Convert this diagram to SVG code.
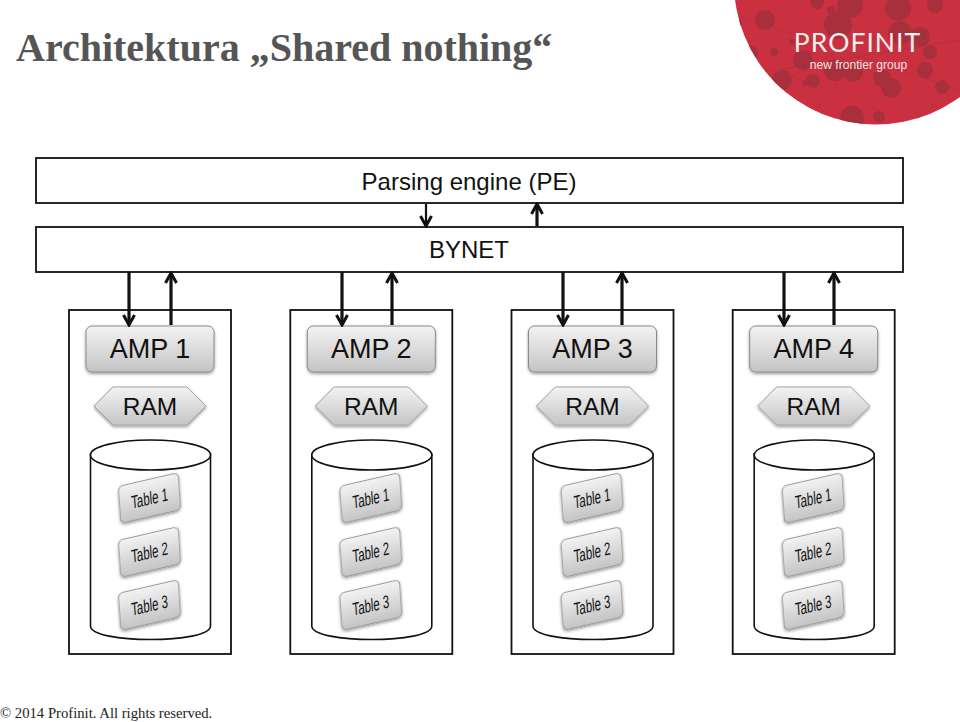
<svg xmlns="http://www.w3.org/2000/svg" width="960" height="722" viewBox="0 0 960 722">
<style>
text{font-family:"Liberation Sans",Arial,sans-serif;fill:#111;text-anchor:middle}
.serif{font-family:"Liberation Serif","Times New Roman",serif;text-anchor:start}
.box{fill:#fff;stroke:#111;stroke-width:1.8}
.amp{fill:url(#gr);stroke:#8a8a8a;stroke-width:1;filter:url(#sh)}
.ramp{fill:url(#gr);stroke:#a5a5a5;stroke-width:1;filter:url(#sh)}
.tbl{fill:url(#gr);stroke:#999;stroke-width:1;filter:url(#sh)}
.cyl{fill:#fff;stroke:#111;stroke-width:1.6}
.a{font-size:27px}.r{font-size:24.5px}.t{font-size:18px}
.w{stroke:#111;stroke-width:3.2;fill:none;marker-end:url(#ah)}
.d{fill:#a8303c}
.v{stroke:#a8333d;stroke-width:.7;fill:none}
</style>
<defs>
<linearGradient id="gr" x1="0" y1="0" x2="0" y2="1"><stop offset="0" stop-color="#f3f3f3"/><stop offset="1" stop-color="#c4c4c4"/></linearGradient>
<filter id="sh" x="-15%" y="-15%" width="130%" height="135%"><feDropShadow dx="0" dy="1.5" stdDeviation="1.5" flood-color="#000" flood-opacity=".4"/></filter>
<marker id="ah" markerUnits="userSpaceOnUse" markerWidth="14" markerHeight="14" refX="12" refY="7" orient="auto"><path d="M2 1.5 L12 7 L2 12.5" fill="none" stroke="#111" stroke-width="3"/></marker>
<clipPath id="lc"><circle cx="876" cy="-17.5" r="142"/></clipPath>
<g id="tables">
<g transform="matrix(1 -.23 .07 1 149.5 498)"><rect class="tbl" x="-30" y="-18.5" width="60" height="37" rx="5"/><text class="t" transform="scale(.63 1)" y="6.500">Table 1</text></g>
<g transform="matrix(1 -.23 .07 1 149.5 552)"><rect class="tbl" x="-30" y="-18.5" width="60" height="37" rx="5"/><text class="t" transform="scale(.63 1)" y="6.500">Table 2</text></g>
<g transform="matrix(1 -.23 .07 1 149.5 605)"><rect class="tbl" x="-30" y="-18.5" width="60" height="37" rx="5"/><text class="t" transform="scale(.63 1)" y="6.500">Table 3</text></g>
</g>
<g id="col">
<rect class="box" x="69" y="310" width="162" height="344"/>
<rect class="amp" x="86" y="326" width="128" height="46" rx="6"/>
<path class="ramp" d="M113 387H187L206 406L187 425H113L94 406Z"/>
<text class="r" x="150" y="415">RAM</text>
<path class="cyl" d="M90.500 454V626C90.500 644 210.500 644 210.500 626V454Z"/>
<ellipse class="cyl" cx="150.500" cy="455" rx="60" ry="15"/>
<use href="#tables"/>
</g>
</defs>
<rect width="960" height="722" fill="#fff"/>
<g id="logo" clip-path="url(#lc)">
<rect x="720" y="0" width="240" height="135" fill="#cb3040"/>
<path class="v" d="M735 15L960 90M745 75L960 40M800 130L880 30M850 60L960 120M880 70L930 130M760 95L850 45"/>
<g class="d"><circle cx="765" cy="20" r="10"/><circle cx="737" cy="23" r="5"/><circle cx="750" cy="53" r="8"/><circle cx="792" cy="42" r="3"/><circle cx="774" cy="52" r="4"/><circle cx="803" cy="60" r="10"/><circle cx="838" cy="25" r="14"/><circle cx="850" cy="5" r="13"/><circle cx="817" cy="2" r="7"/><circle cx="831" cy="10" r="4"/><circle cx="898" cy="8" r="13"/><circle cx="900" cy="33" r="12"/><circle cx="920" cy="37" r="10"/><circle cx="935" cy="5" r="8"/><circle cx="930" cy="52" r="7"/><circle cx="925" cy="70" r="8"/><circle cx="782" cy="80" r="10"/><circle cx="813" cy="81" r="7"/><circle cx="805" cy="83" r="3"/><circle cx="835" cy="70" r="11"/><circle cx="853" cy="72" r="10"/><circle cx="882" cy="78" r="9"/><circle cx="891" cy="88" r="10"/><circle cx="942" cy="87" r="7"/><circle cx="852" cy="118" r="12"/><circle cx="879" cy="117" r="6"/></g>
<text x="857.500" y="52" style="fill:#f6eeee;font-family:Lato,'Liberation Sans',sans-serif;font-size:26.500px;letter-spacing:1px">PROFINIT</text>
<text x="858.500" y="68.500" style="fill:#f3e3e3;font-family:'Liberation Sans',sans-serif;font-size:12.100px">new frontier group</text>
</g>
<text class="serif" x="16" y="61" font-weight="700" font-size="40" style="fill:#555">Architektura „Shared nothing“</text>
<g id="pe"><rect class="box" x="36" y="158" width="867" height="45"/><text x="469" y="190" font-size="24">Parsing engine (PE)</text></g>
<g id="bynet"><rect class="box" x="36" y="227" width="867" height="45"/><text x="469" y="258" font-size="24">BYNET</text></g>
<g id="amp1"><use href="#col"/><text class="a" x="150" y="358">AMP 1</text></g>
<g id="amp2" transform="translate(221.3)"><use href="#col"/><text class="a" x="150" y="358">AMP 2</text></g>
<g id="amp3" transform="translate(442.5)"><use href="#col"/><text class="a" x="150" y="358">AMP 3</text></g>
<g id="amp4" transform="translate(663.7)"><use href="#col"/><text class="a" x="150" y="358">AMP 4</text></g>
<g id="connectors">
<path class="w" style="stroke-width:2.2" d="M426 204V226"/><path class="w" d="M537 226V204"/>
<path class="w" d="M129 272V325"/><path class="w" d="M171 325V273"/>
<path class="w" d="M342 272V325"/><path class="w" d="M392 325V273"/>
<path class="w" d="M563 272V325"/><path class="w" d="M622 325V273"/>
<path class="w" d="M784 272V325"/><path class="w" d="M834 325V273"/>
</g>
<text class="serif" x="0" y="718" font-size="14.700" style="fill:#222">© 2014 Profinit. All rights reserved.</text>
</svg>
